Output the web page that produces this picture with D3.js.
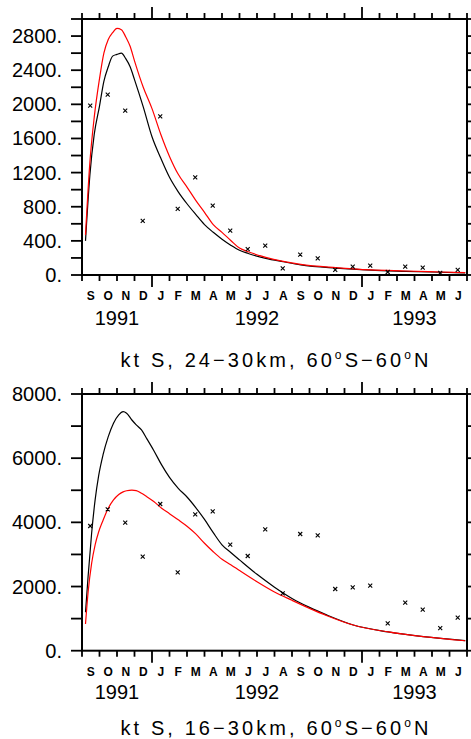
<!DOCTYPE html>
<html>
<head>
<meta charset="utf-8">
<script src="https://cdn.jsdelivr.net/npm/d3@7"></script>
<style>
  body { margin: 0; background: #fff; }
  svg { display: block; }
  text { font-family: "Liberation Sans", Arial, sans-serif; fill: #000; }
  .month { font-size: 12px; font-weight: bold; }
  .year, .ylab, .title { font-size: 20px; }
</style>
</head>
<body>
<div id="chart"></div>
<script>
// month letters, starting Sep 1991
var months = ["S","O","N","D","J","F","M","A","M","J","J","A","S","O","N","D","J","F","M","A","M","J"];
// year label, first month index, last month index
var years = [[1991, 0, 4], [1992, 4, 16], [1993, 16, 22]];

// observed (crosses), one per month
var topObs = [1985, 2115, 1925, 635, 1860, 775, 1145, 812, 521, 302, 345, 78, 239, 196, 59, 98, 110, 35, 98, 86, 24, 59];
var bottomObs = [3886, 4407, 3989, 2930, 4572, 2443, 4251, 4340, 3304, 2951, 3783, 1789, 3637, 3596, 1923, 1976, 2026, 854, 1496, 1278, 707, 1028];

// model lines, months since 1 Sep 1991
var topLineMonths = [0.2, 0.45, 0.7, 1.0, 1.25, 1.5, 1.75, 2.0, 2.25, 2.5, 2.75, 3.0, 3.5, 4.0, 4.5, 5.0, 5.5, 6.0, 6.5, 7.0, 7.5, 8.0, 8.5, 9.0, 9.5, 10.5, 11.5, 12.5, 14.5, 16.5, 18.5, 20.5, 21.9];
var topBlack = [400, 1170, 1650, 1980, 2270, 2440, 2565, 2585, 2600, 2535, 2440, 2290, 1970, 1620, 1370, 1145, 975, 835, 710, 590, 500, 420, 350, 290, 252, 195, 155, 118, 80, 56, 43, 32, 25];
var topRed = [470, 1320, 1850, 2300, 2600, 2760, 2840, 2890, 2875, 2790, 2680, 2510, 2200, 1950, 1650, 1390, 1180, 1030, 875, 735, 590, 500, 405, 315, 272, 207, 160, 125, 86, 59, 47, 35, 27];

var bottomLineMonths = [0.2, 0.35, 0.55, 0.75, 0.95, 1.2, 1.5, 1.8, 2.1, 2.35, 2.55, 2.85, 3.1, 3.4, 3.7, 4.1, 4.55, 5.0, 5.5, 6.0, 6.5, 7.0, 7.5, 8.0, 8.5, 9.0, 10.0, 11.0, 12.0, 13.0, 14.0, 15.5, 17.5, 19.5, 21.9];
var bottomBlack = [1200, 2330, 3660, 4700, 5450, 6100, 6670, 7090, 7350, 7450, 7400, 7190, 7040, 6880, 6610, 6240, 5790, 5400, 5060, 4790, 4460, 4090, 3680, 3300, 3060, 2830, 2380, 1980, 1630, 1350, 1110, 800, 585, 436, 312];
var bottomRed = [830, 1830, 2720, 3300, 3700, 4060, 4440, 4700, 4870, 4950, 4985, 5005, 4990, 4905, 4800, 4650, 4440, 4270, 4080, 3880, 3640, 3350, 3085, 2850, 2680, 2500, 2150, 1830, 1570, 1320, 1090, 800, 585, 436, 310];

var width = 471, height = 739;
var left = 82, right = 467;

var svg = d3.select("#chart").append("svg")
    .attr("width", width)
    .attr("height", height);

var x = d3.scaleLinear().domain([0, months.length]).range([left, right]);

function drawPanel(p) {
  var y = d3.scaleLinear().domain([0, p.yMax]).range([p.bottom, p.top]);
  var g = svg.append("g");

  // ticks along x (top and bottom, outward)
  d3.range(0, months.length + 1).forEach(function(m) {
    var major = (m === 4 || m === 16);
    var len = major ? 12 : 6;
    g.append("line").attr("x1", x(m)).attr("x2", x(m))
      .attr("y1", p.top).attr("y2", p.top - len)
      .attr("stroke", "#000").attr("stroke-width", 1.8);
    g.append("line").attr("x1", x(m)).attr("x2", x(m))
      .attr("y1", p.bottom).attr("y2", p.bottom + len)
      .attr("stroke", "#000").attr("stroke-width", 1.8);
  });

  // ticks along y (left and right, outward)
  d3.range(0, p.yMax + 1, p.minor).forEach(function(v) {
    g.append("line").attr("x1", left - 11).attr("x2", left)
      .attr("y1", y(v)).attr("y2", y(v))
      .attr("stroke", "#000").attr("stroke-width", 1.8);
    g.append("line").attr("x1", right).attr("x2", right + 11)
      .attr("y1", y(v)).attr("y2", y(v))
      .attr("stroke", "#000").attr("stroke-width", 1.8);
  });

  g.selectAll(".ylab")
    .data(d3.range(0, p.yMax + 1, p.major))
    .enter().append("text")
    .attr("class", "ylab")
    .attr("x", 62)
    .attr("y", function(d) { return y(d) + 7; })
    .attr("text-anchor", "end")
    .text(function(d) { return d + "."; });

  // frame
  g.append("rect")
    .attr("x", left).attr("y", p.top)
    .attr("width", right - left).attr("height", p.bottom - p.top)
    .attr("fill", "none").attr("stroke", "#000").attr("stroke-width", 2);

  g.selectAll(".month")
    .data(months)
    .enter().append("text")
    .attr("class", "month")
    .attr("x", function(d, i) { return x(i + 0.5); })
    .attr("y", p.monthY)
    .attr("text-anchor", "middle")
    .text(function(d) { return d; });

  g.selectAll(".year")
    .data(years)
    .enter().append("text")
    .attr("class", "year")
    .attr("x", function(d) { return x((d[1] + d[2]) / 2); })
    .attr("y", p.yearY)
    .attr("text-anchor", "middle")
    .text(function(d) { return d[0]; });

  var line = d3.line()
    .x(function(d) { return x(d[0]); })
    .y(function(d) { return y(d[1]); })
    .curve(d3.curveMonotoneX);

  g.append("path")
    .datum(d3.zip(p.lineMonths, p.black))
    .attr("d", line)
    .attr("fill", "none").attr("stroke", "#000").attr("stroke-width", 1.2);

  g.append("path")
    .datum(d3.zip(p.lineMonths, p.red))
    .attr("d", line)
    .attr("fill", "none").attr("stroke", "#ff0000").attr("stroke-width", 1.2);

  g.selectAll(".obs")
    .data(p.obs)
    .enter().append("path")
    .attr("class", "obs")
    .attr("transform", function(d, i) { return "translate(" + x(i + 0.47) + "," + y(d) + ")"; })
    .attr("d", "M-2,-2L2,2M-2,2L2,-2")
    .attr("stroke", "#000").attr("stroke-width", 1.1);

  var t = g.append("text")
    .attr("class", "title")
    .attr("x", (left + right) / 2)
    .attr("y", p.titleY)
    .attr("text-anchor", "middle")
    .attr("textLength", 308)
    .attr("lengthAdjust", "spacing");
  t.append("tspan").text("kt S, " + p.range + "km, 60");
  t.append("tspan").attr("font-size", 12).attr("dy", -8).text("o");
  t.append("tspan").attr("dy", 8).text("S\u221260");
  t.append("tspan").attr("font-size", 12).attr("dy", -8).text("o");
  t.append("tspan").attr("dy", 8).text("N");
}

drawPanel({
  top: 19, bottom: 275, yMax: 3000, minor: 200, major: 400,
  monthY: 299.5, yearY: 325, titleY: 366.5, range: "24\u221230",
  lineMonths: topLineMonths, black: topBlack, red: topRed, obs: topObs
});

drawPanel({
  top: 394, bottom: 650.7, yMax: 8000, minor: 1000, major: 2000,
  monthY: 675.5, yearY: 699, titleY: 735, range: "16\u221230",
  lineMonths: bottomLineMonths, black: bottomBlack, red: bottomRed, obs: bottomObs
});
</script>
</body>
</html>
